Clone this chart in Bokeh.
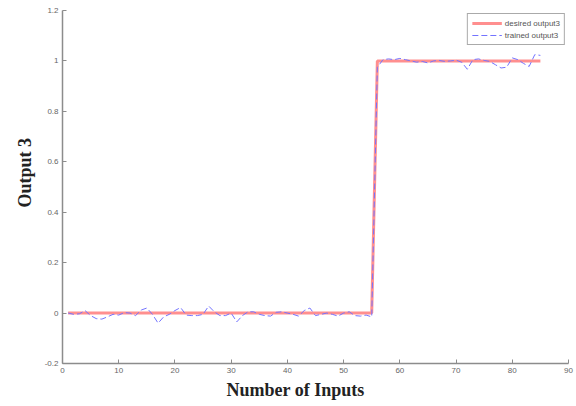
from bokeh.plotting import figure
from bokeh.models import Range1d, FixedTicker, Title, Legend, LegendItem
from bokeh.embed import file_html
from bokeh.resources import INLINE

# ---- data ----
inputs = list(range(1, 86))
desired = [0.0] * 55 + [1.0] * 30
trained = [
    0.000, -0.005, -0.003, 0.010, -0.010, -0.022, -0.024, -0.015, -0.005, -0.008,
    0.002, 0.000, -0.010, 0.012, 0.020, -0.005, -0.040, -0.015, -0.005, 0.010,
    0.022, -0.008, -0.010, -0.010, -0.005, 0.028, 0.005, -0.010, -0.010, 0.000,
    -0.035, -0.010, 0.005, 0.005, -0.005, -0.010, -0.012, 0.003, 0.005, 0.000,
    -0.005, -0.012, 0.010, 0.020, -0.010, -0.005, 0.000, -0.005, -0.012, 0.000,
    0.005, -0.010, -0.012, -0.008, -0.015,
    0.975, 1.005, 1.008, 1.005, 1.010, 1.005, 1.000, 0.995, 0.998, 0.992,
    1.000, 1.002, 0.998, 1.000, 1.003, 0.995, 0.967, 1.005, 1.008, 1.002,
    0.998, 0.985, 0.972, 0.975, 1.012, 1.005, 0.990, 0.978, 1.025, 1.022,
]
x_ticks = [0, 10, 20, 30, 40, 50, 60, 70, 80, 90]
y_ticks = [-0.2, 0, 0.2, 0.4, 0.6, 0.8, 1, 1.2]
y_tick_labels = ["-0.2", "0", "0.2", "0.4", "0.6", "0.8", "1", "1.2"]
x_label_text = "Number of Inputs"
y_label_text = "Output 3"
legend_labels = ["desired output3", "trained output3"]

p = figure(frame_width=506, frame_height=353,
           min_border_left=62, min_border_right=8,
           min_border_top=10, min_border_bottom=43,
           x_range=Range1d(0, 90), y_range=Range1d(-0.2, 1.2),
           output_backend="svg", toolbar_location=None)
p.outline_line_color = None
p.xgrid.visible = False
p.ygrid.visible = False
p.background_fill_color = "white"
p.border_fill_color = "white"

r1 = p.line(inputs, desired, line_color="#ff8f8f", line_width=3)
r2 = p.line(inputs, trained, line_color="#7373ff", line_width=1, line_dash="6 3")

for ax in (p.xaxis[0], p.yaxis[0]):
    ax.axis_line_color = "#8c8c8c"
    ax.axis_line_width = 1.5
    ax.major_tick_line_color = "#8c8c8c"
    ax.major_tick_in = 4
    ax.major_tick_out = 0
    ax.minor_tick_line_color = None
    ax.major_label_text_font = "Liberation Sans"
    ax.major_label_text_font_size = "8px"
    ax.major_label_text_color = "#666666"
    ax.major_label_standoff = 4

p.xaxis[0].ticker = FixedTicker(ticks=x_ticks)
p.yaxis[0].ticker = FixedTicker(ticks=y_ticks)
p.yaxis[0].major_label_overrides = {t: s for t, s in zip(y_ticks, y_tick_labels)}
p.xaxis[0].major_label_overrides = {t: str(t) for t in x_ticks}

xt = Title(text=x_label_text, align="left", offset=164, standoff=5,
           text_font="Liberation Serif", text_font_style="bold",
           text_font_size="18px", text_color="#222222")
p.add_layout(xt, "below")
yt = Title(text=y_label_text, align="left", offset=156, standoff=13,
           text_font="Liberation Serif", text_font_style="bold",
           text_font_size="18px", text_color="#222222")
p.add_layout(yt, "left")

legend = Legend(items=[LegendItem(label=legend_labels[0], renderers=[r1]),
                       LegendItem(label=legend_labels[1], renderers=[r2])],
                location="top_right")
legend.margin = 3
legend.padding = 4
legend.spacing = 2
legend.label_height = 10
legend.glyph_height = 10
legend.glyph_width = 30
legend.label_standoff = 3
legend.label_text_font = "Liberation Sans"
legend.label_text_font_size = "8px"
legend.label_text_color = "#555555"
legend.border_line_color = "#555555"
legend.border_line_width = 1.5
legend.background_fill_alpha = 1
p.add_layout(legend)

open("out.html", "w").write(file_html(p, INLINE))
